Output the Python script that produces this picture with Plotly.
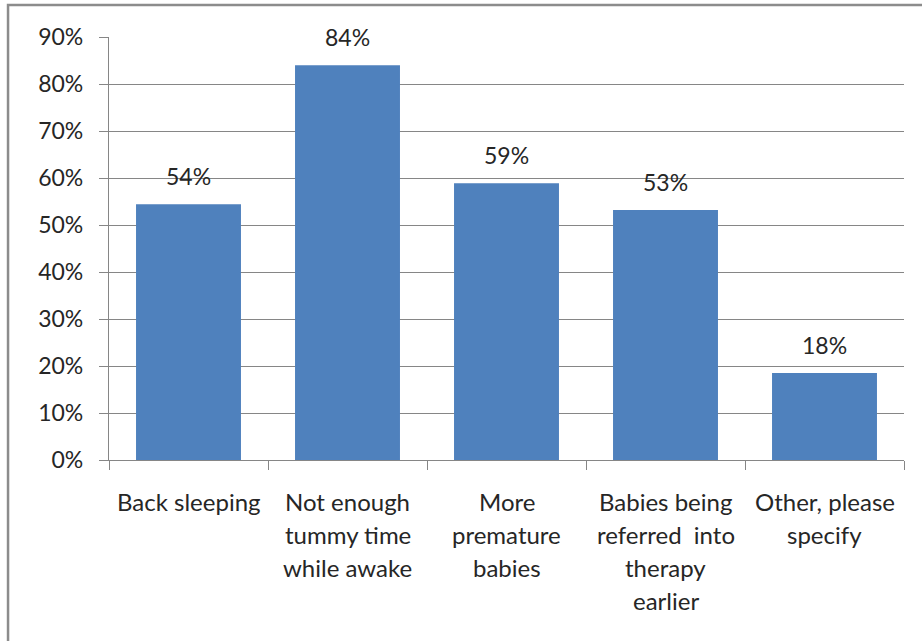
import plotly.graph_objects as go

categories = ["Back sleeping", "Not enough tummy time while awake", "More premature babies",
              "Babies being referred into therapy earlier", "Other, please specify"]
label_lines = [["Back sleeping"],
               ["Not enough", "tummy time", "while awake"],
               ["More", "premature", "babies"],
               ["Babies being", "referred  into", "therapy", "earlier"],
               ["Other, please", "specify"]]
values = [0.544, 0.840, 0.589, 0.532, 0.185]
value_labels = ["54%", "84%", "59%", "53%", "18%"]
y_ticks = [0, 0.1, 0.2, 0.3, 0.4, 0.5, 0.6, 0.7, 0.8, 0.9]
y_tick_labels = ["0%", "10%", "20%", "30%", "40%", "50%", "60%", "70%", "80%", "90%"]

FONT = "Lato"
TXT = "#262626"
GRID = "#868686"

fig = go.Figure(go.Bar(x=categories, y=values, marker=dict(color="#4F81BD", line=dict(width=0)),
                       width=0.66, hoverinfo="skip"))

ann = []
for c, v, t in zip(categories, values, value_labels):
    ann.append(dict(x=c, y=v, xref="x", yref="y", text=t, showarrow=False,
                    yanchor="bottom", yshift=12, font=dict(family=FONT, size=23, color=TXT)))
for c, lines in zip(categories, label_lines):
    for i, ln in enumerate(lines):
        ann.append(dict(x=c, y=0, xref="x", yref="paper", text=ln, showarrow=False,
                        yanchor="middle", yshift=-41 - 33 * i,
                        font=dict(family=FONT, size=24, color=TXT)))

fig.update_layout(
    width=922, height=641,
    margin=dict(l=109, r=18, t=37, b=181),
    paper_bgcolor="white", plot_bgcolor="white",
    showlegend=False,
    font=dict(family=FONT, size=23, color=TXT),
    annotations=ann,
    shapes=[dict(type="rect", xref="paper", yref="paper", x0=-0.127, x1=1.04, y0=-0.46, y1=1.0757,
                 line=dict(color="#8c8c8c", width=2.5), fillcolor="rgba(0,0,0,0)", layer="below")],
    xaxis=dict(showticklabels=False, tickson="boundaries", ticks="outside", ticklen=9,
               tickcolor=GRID, showline=True, linecolor=GRID, linewidth=1.3, showgrid=False,
               zeroline=False),
    yaxis=dict(range=[0, 0.9], tickvals=y_ticks, ticktext=y_tick_labels, ticks="outside",
               ticklen=9, tickcolor=GRID, showline=True, linecolor=GRID, linewidth=1.3,
               showgrid=True, gridcolor=GRID, gridwidth=1.3, zeroline=False,
               tickfont=dict(family=FONT, size=23, color=TXT), ticklabelstandoff=11),
)
fig.write_html("out.html")
